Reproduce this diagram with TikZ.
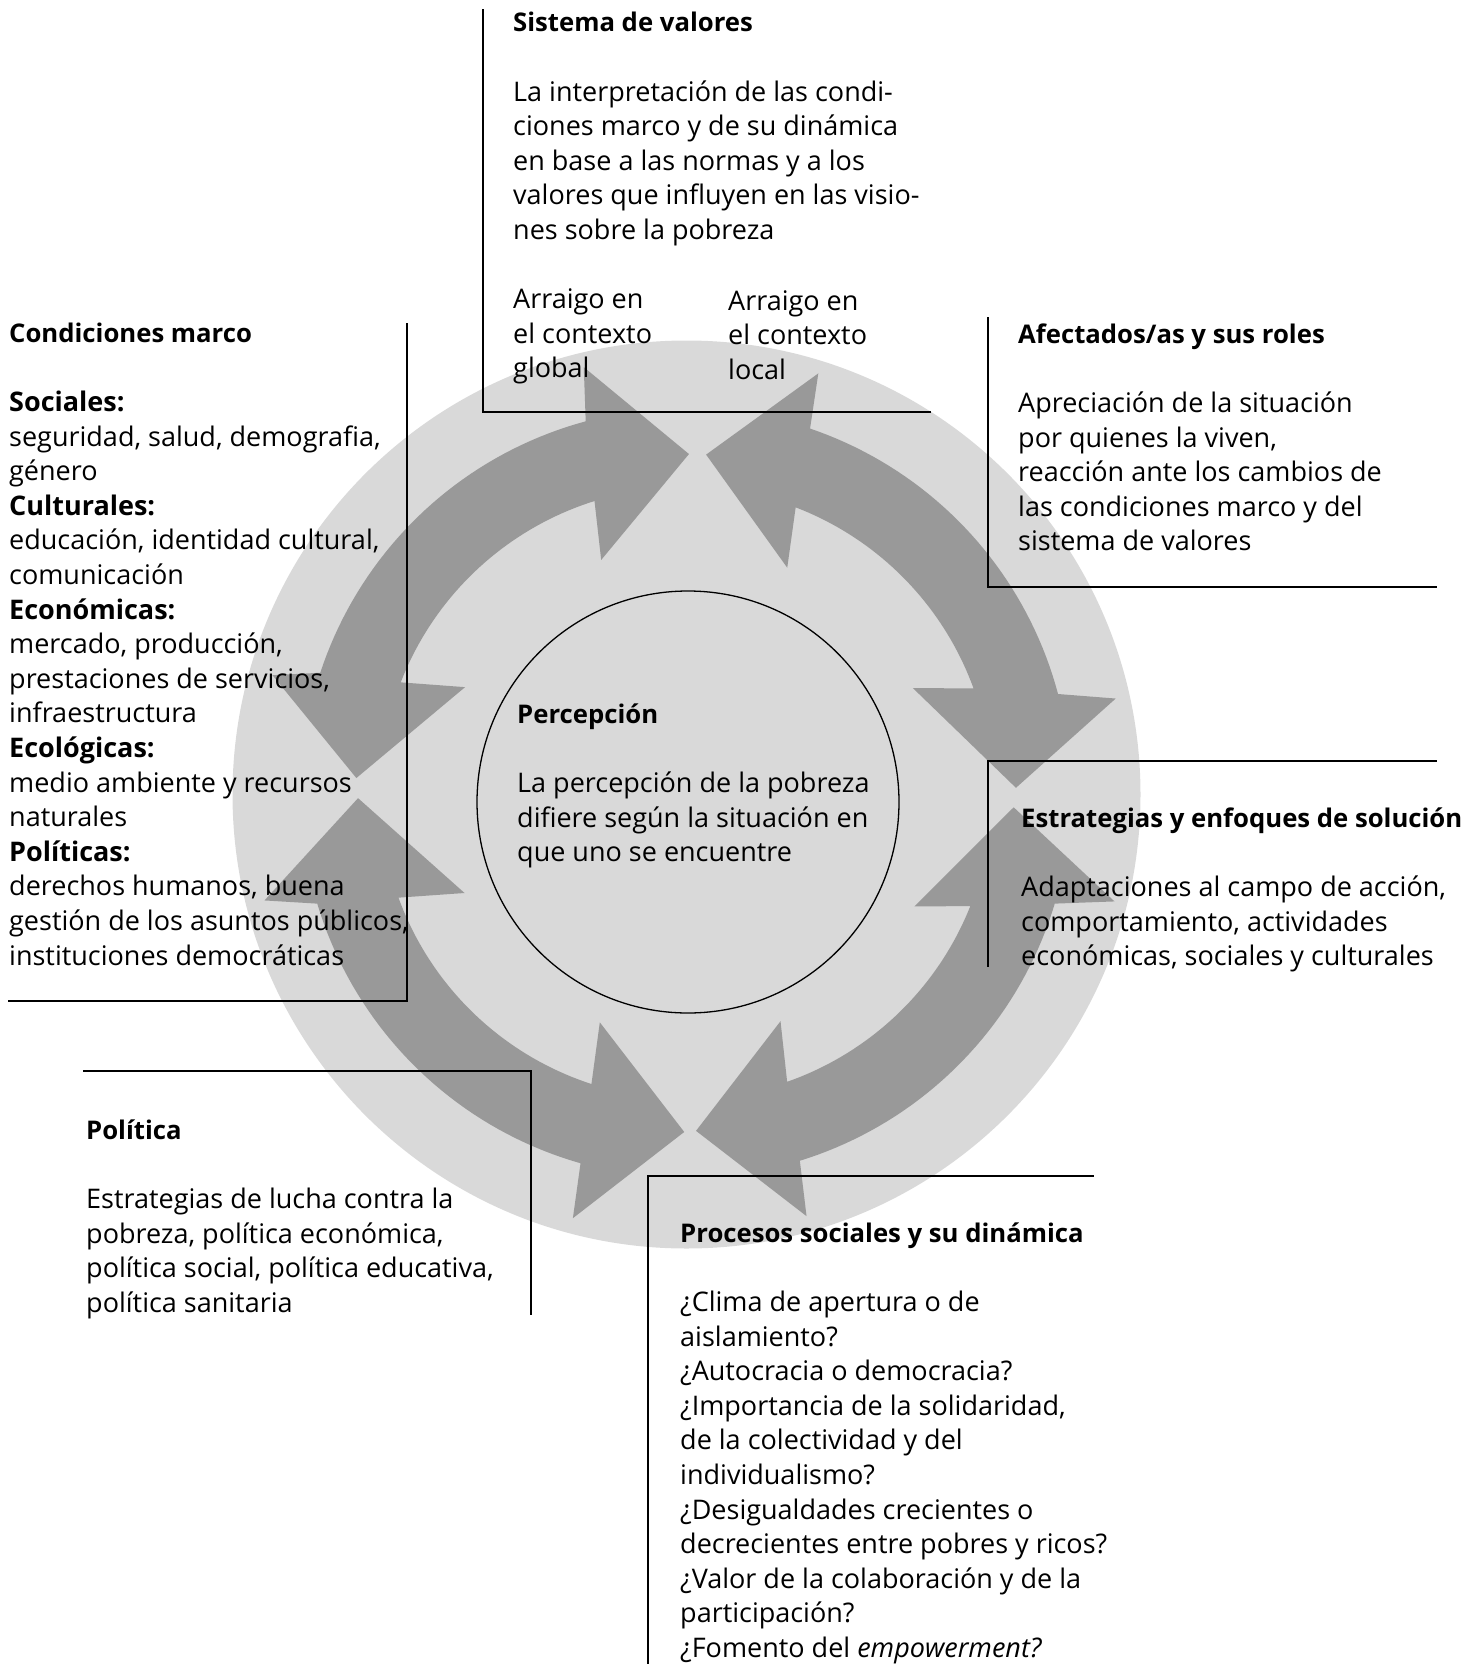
\documentclass[tikz,border=0pt]{standalone}
\usepackage{fontspec}
\setmainfont{Open Sans}
\definecolor{diskgray}{RGB}{217,217,217}
\definecolor{bandgray}{RGB}{153,153,153}
\newcommand{\ttl}[1]{{\fontsize{25.7}{34.6}\selectfont\bfseries #1}}
\newcommand{\hd}[1]{{\bfseries #1}}
\newcommand{\fst}{\rule{0pt}{26pt}}
\begin{document}
\begin{tikzpicture}[x=1pt,y=-1pt,
  txt/.style={anchor=north west, inner sep=0pt, align=left,
    font=\fontsize{27}{34.6}\selectfont},
  bracket/.style={line width=2.8pt, line cap=rect},
  band/.style={fill=bandgray}]
\useasboundingbox (0,0) rectangle (1472,1664);
% light disk
\fill[diskgray] (686.5,794.5) circle[radius=454pt];
% four double-headed curved arrows
\begin{scope}[shift={(686,793)}]
\fill[band] plot[domain=198.2:254.9,samples=40] (\x:385) -- (256.5:438) -- (270.5:339) -- (250:248)
  -- plot[domain=252.6:201.2,samples=40] (\x:306) -- (205.6:245) -- (182.6:330) -- (195.9:430) -- cycle;
\fill[band] plot[domain=288.8:345.1,samples=40] (\x:385) -- (347.6:440) -- (359.1:330) -- (335.2:250)
  -- plot[domain=340:291,samples=40] (\x:306) -- (294.2:247) -- (273.4:339) -- (287.5:440) -- cycle;
\fill[band] plot[domain=16.7:72.8,samples=40] (\x:385) -- (74.1:440) -- (88.3:338) -- (67.5:247)
  -- plot[domain=70.7:21.7,samples=40] (\x:306) -- (26.4:255) -- (2.5:328) -- (14.2:442) -- cycle;
\fill[band] plot[domain=105.9:163.3,samples=40] (\x:385) -- (165.7:435) -- (179.1:328) -- (155.7:243)
  -- plot[domain=160:108,samples=40] (\x:306) -- (110.6:245) -- (90.3:339) -- (104.9:440) -- cycle;
\end{scope}
% inner circle
\node[circle, draw, line width=1.3pt, minimum size=422pt, inner sep=0pt] (circ) at (688,802) {};

% brackets
\coordinate (s1) at (483,10);   \coordinate (s2) at (483,412);  \coordinate (s3) at (930,412);
\coordinate (c1) at (407,324);  \coordinate (c2) at (407,1001); \coordinate (c3) at (9,1001);
\coordinate (a1) at (988,318);  \coordinate (a2) at (988,587);  \coordinate (a3) at (1436,587);
\coordinate (e1) at (1436,761); \coordinate (e2) at (988,761);  \coordinate (e3) at (988,966);
\coordinate (p1) at (84,1071);  \coordinate (p2) at (531,1071); \coordinate (p3) at (531,1314);
\coordinate (r1) at (1093,1176);\coordinate (r2) at (648,1176); \coordinate (r3) at (648,1670);
\draw[bracket] (s1) -- (s2) -- (s3);
\draw[bracket] (c1) -- (c2) -- (c3);
\draw[bracket] (a1) -- (a2) -- (a3);
\draw[bracket] (e1) -- (e2) -- (e3);
\draw[bracket] (p1) -- (p2) -- (p3);
\draw[bracket] (r1) -- (r2) -- (r3);

% texts (node top = first baseline - 26)
\node[txt] (sis) at (513,5.7) {\fst\ttl{Sistema de valores}\\[34.6pt]
La interpretación de las condi-\\
ciones marco y de su dinámica\\
en base a las normas y a los\\
valores que influyen en las visio-\\
nes sobre la pobreza\\[34.6pt]
Arraigo en\\
el contexto\\
global};
\node[txt] (sisloc) at (728,283.8) {\fst Arraigo en\\
el contexto\\
local};

\node[txt] (cond) at (9,316) {\fst\ttl{Condiciones marco}\\[34.6pt]
\hd{Sociales:}\\
seguridad, salud, demografia,\\
género\\
\hd{Culturales:}\\
educación, identidad cultural,\\
comunicación\\
\hd{Económicas:}\\
mercado, producción,\\
prestaciones de servicios,\\
infraestructura\\
\hd{Ecológicas:}\\
medio ambiente y recursos\\
naturales\\
\hd{Políticas:}\\
derechos humanos, buena\\
gestión de los asuntos públicos,\\
instituciones democráticas};

\node[txt] (afec) at (1018,317) {\fst\ttl{Afectados/as y sus roles}\\[34.6pt]
Apreciación de la situación\\
por quienes la viven,\\
reacción ante los cambios de\\
las condiciones marco y del\\
sistema de valores};

\node[txt] (estr) at (1021,801) {\fst\ttl{Estrategias y enfoques de solución}\\[34.6pt]
Adaptaciones al campo de acción,\\
comportamiento, actividades\\
económicas, sociales y culturales};

\node[txt] (perc) at (517,697) {\fst\ttl{Percepción}\\[34.6pt]
La percepción de la pobreza\\
difiere según la situación en\\
que uno se encuentre};

\node[txt] (pol) at (86,1113) {\fst\ttl{Política}\\[34.6pt]
Estrategias de lucha contra la\\
pobreza, política económica,\\
política social, política educativa,\\
política sanitaria};

\node[txt] (proc) at (680,1216) {\fst\ttl{Procesos sociales y su dinámica}\\[34.6pt]
¿Clima de apertura o de\\
aislamiento?\\
¿Autocracia o democracia?\\
¿Importancia de la solidaridad,\\
de la colectividad y del\\
individualismo?\\
¿Desigualdades crecientes o\\
decrecientes entre pobres y ricos?\\
¿Valor de la colaboración y de la\\
participación?\\
¿Fomento del \textit{empowerment?}};
\end{tikzpicture}
\end{document}
